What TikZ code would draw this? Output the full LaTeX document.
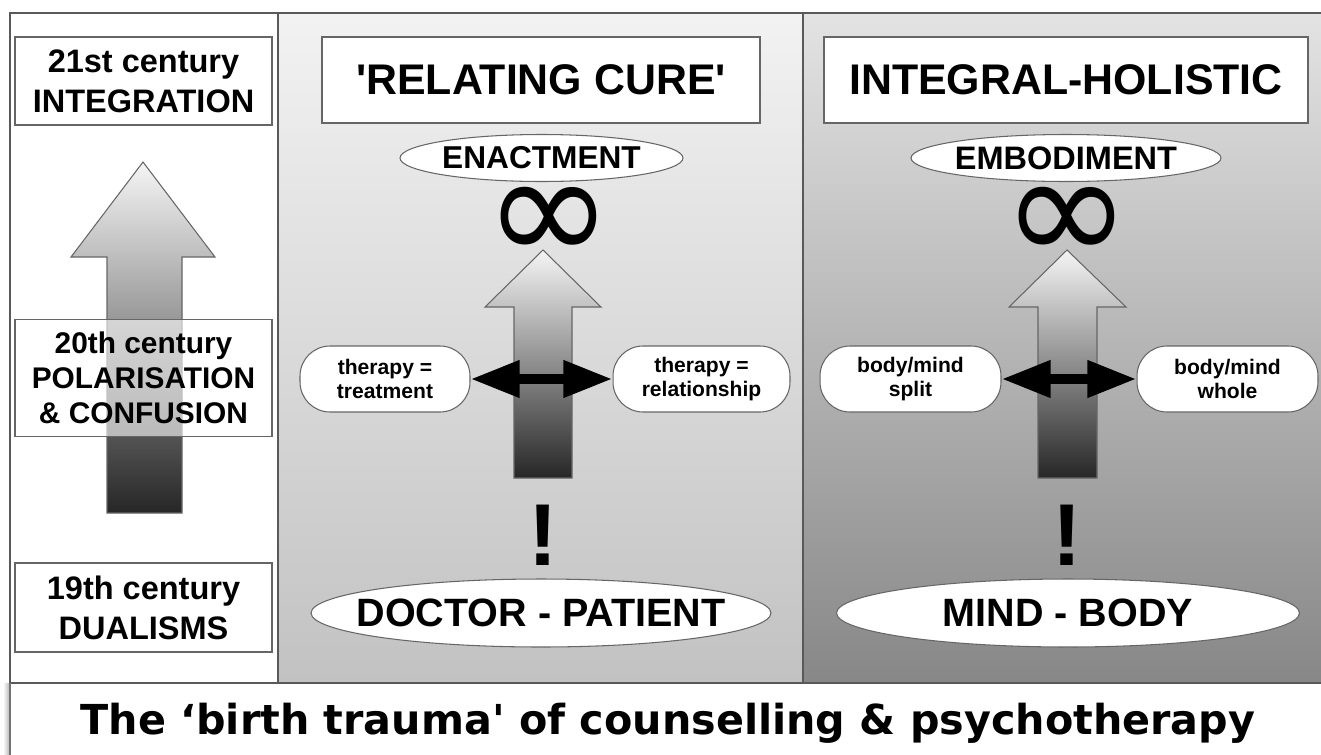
\documentclass[tikz,border=0pt]{standalone}
\usepackage{fontspec}
\setmainfont{Liberation Sans}
\newfontfamily\capfont{DejaVu Sans}
\newfontfamily\symfont{DejaVu Sans}
\usetikzlibrary{arrows.meta,shapes.geometric,positioning}

\newcommand{\ovaltext}[1]{\makebox[0pt]{#1}}

\begin{document}
\begin{tikzpicture}[x=0.02cm,y=-0.02cm]

\tikzset{
  frame/.style={draw=black!65, line width=1.2pt},
  era box/.style={draw=black!60, line width=0.7pt, fill=white,
    minimum width=5.14cm, align=center, inner sep=0pt,
    font=\bfseries\fontsize{18.5}{22.7}\selectfont},
  title box/.style={draw=black!60, line width=0.7pt, fill=white,
    minimum height=1.72cm, inner sep=0pt,
    font=\bfseries\fontsize{24.4}{28}\selectfont},
  oval/.style={ellipse, draw=black!60, line width=0.6pt, fill=white, inner sep=0pt},
  pill/.style={draw=black!60, line width=0.6pt, fill=white, rounded corners=0.6cm,
    minimum height=1.32cm, inner sep=0pt, align=center,
    font=\bfseries\fontsize{12}{14}\selectfont},
  up arrow/.style={draw=black!60, line width=0.6pt, top color=black!4, bottom color=black!85},
  twoway/.style={line width=5.7pt, {Triangle[length=28pt,width=20pt]}-{Triangle[length=28pt,width=20pt]}},
  loop sign/.style={font=\symfont\fontsize{88}{88}\selectfont, inner sep=0pt},
  bang/.style={font=\bfseries\fontsize{50}{50}\selectfont, inner sep=0pt}
}

\useasboundingbox (0,0) rectangle (1321,754);
\fill[white] (0,0) rectangle (1321,754);

% panels
\shade[top color=black!5, bottom color=black!24] (278,13) rectangle (803,683);
\shade[top color=black!11, bottom color=black!47] (803,13) rectangle (1321,683);
\shade[left color=white, right color=black!30] (3,683) rectangle (10,754);
\draw[frame] (1330,13) -- (10,13) -- (10,683) -- (1330,683);
\draw[frame] (278,13) -- (278,683);
\draw[frame] (803,13) -- (803,683);
\draw[frame, line width=1.6pt] (10,683) -- (1330,683);
\draw[draw=black!55, line width=0.8pt] (10,683) -- (10,760);

% left column
\path[up arrow] (143,162) -- (215,257) -- (182,257) -- (182,513) -- (107,513)
   -- (107,257) -- (71,257) -- cycle;
\node[era box, minimum height=1.76cm] (c21) at (143.5,81) {21st century\\INTEGRATION};
\node[era box, minimum height=2.34cm, fill opacity=.6, text opacity=1,
   font=\bfseries\fontsize{17}{20}\selectfont] (c20) at (143.5,378)
   {20th century\\POLARISATION\\\& CONFUSION};
\node[era box, minimum height=1.78cm] (c19) at (143.5,607.5) {19th century\\DUALISMS};

% relating cure
\node[title box, minimum width=8.76cm] (cure) at (541,80) {\textquotesingle RELATING CURE\textquotesingle};
\node[oval, minimum width=5.66cm, minimum height=0.94cm,
   font=\bfseries\fontsize{18}{20}\selectfont] (enact) at (541.5,158) {\ovaltext{ENACTMENT}};
\node[loop sign] (inf1) at (549,225) {∞};
\path[up arrow] (543,250) -- (601,307) -- (572,307) -- (572,478) -- (514,478)
   -- (514,307) -- (485,307) -- cycle;
\node[pill, minimum width=3.4cm] (treat) at (385,379) {therapy =\\treatment};
\node[pill, minimum width=3.54cm] (relat) at (701.5,379) {therapy =\\relationship};
\draw[twoway] (treat.east) -- (relat.west);
\node[bang] (bang1) at (543,535) {!};
\node[oval, minimum width=9.2cm, minimum height=1.36cm,
   font=\bfseries\fontsize{22.5}{25}\selectfont] (docpat) at (541,613) {\ovaltext{DOCTOR - PATIENT}};

% integral holistic
\node[title box, minimum width=9.68cm] (holist) at (1066,80) {INTEGRAL-HOLISTIC};
\node[oval, minimum width=6.2cm, minimum height=0.94cm,
   font=\bfseries\fontsize{18.5}{20}\selectfont] (embod) at (1066,158) {\ovaltext{EMBODIMENT}};
\node[loop sign] (inf2) at (1067,225) {∞};
\path[up arrow] (1067,250) -- (1126,307) -- (1097,307) -- (1097,478) -- (1038,478)
   -- (1038,307) -- (1009,307) -- cycle;
\node[pill, minimum width=3.62cm] (split) at (910.5,379) {body/mind\\split};
\node[pill, minimum width=3.62cm] (whole) at (1227.5,379) {body/mind\\whole};
\draw[twoway] (split.east) -- (whole.west);
\node[bang] (bang2) at (1067,535) {!};
\node[oval, minimum width=9.26cm, minimum height=1.36cm,
   font=\bfseries\fontsize{22.5}{25}\selectfont] (mindbody) at (1068,613) {\ovaltext{MIND - BODY}};

% caption
\node[font=\capfont\bfseries\fontsize{23.5}{26}\selectfont, anchor=base] (caption) at (668,734)
   {The ‘birth trauma\textquotesingle{} of counselling \& psychotherapy};

\end{tikzpicture}
\end{document}
